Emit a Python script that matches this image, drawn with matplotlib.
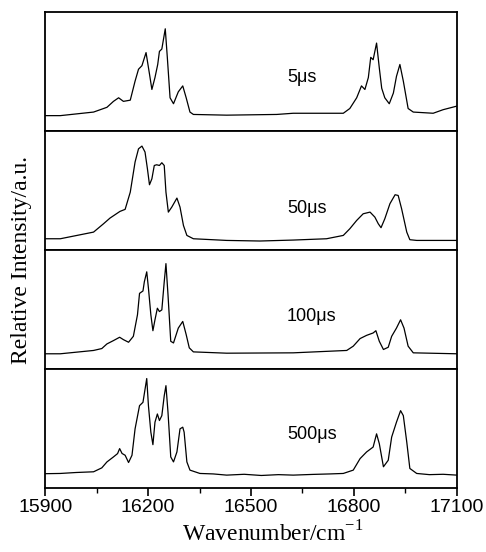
import matplotlib
matplotlib.use("Agg")
import matplotlib.pyplot as plt
from matplotlib.ticker import MultipleLocator

# spectra (wavenumber / cm-1, relative intensity in panel units)
wn_5 = [15900, 15944, 16041, 16080, 16099, 16114, 16128, 16148, 16162, 16172,
        16182, 16194, 16204, 16211, 16220, 16228, 16233, 16240, 16250, 16256,
        16264, 16274, 16288, 16301, 16311, 16322, 16332, 16429, 16575, 16623,
        16769, 16788, 16808, 16822, 16832, 16842, 16849, 16856, 16866, 16874,
        16881, 16890, 16903, 16915, 16924, 16934, 16944, 16958, 16973, 17031,
        17060, 17100]
int_5 = [0.13, 0.13, 0.16, 0.20, 0.25, 0.28, 0.25, 0.26, 0.42, 0.52,
         0.55, 0.66, 0.48, 0.35, 0.45, 0.56, 0.67, 0.69, 0.86, 0.62,
         0.28, 0.23, 0.33, 0.38, 0.28, 0.16, 0.14, 0.134, 0.14, 0.15,
         0.15, 0.19, 0.28, 0.38, 0.35, 0.45, 0.62, 0.60, 0.74, 0.53,
         0.36, 0.28, 0.23, 0.32, 0.46, 0.56, 0.42, 0.19, 0.16, 0.15,
         0.18, 0.21]

wn_50 = [15900, 15944, 16041, 16070, 16089, 16118, 16133, 16148, 16162, 16172,
         16182, 16191, 16198, 16204, 16211, 16218, 16225, 16233, 16240, 16247,
         16252, 16259, 16269, 16284, 16293, 16303, 16313, 16332, 16429, 16526,
         16623, 16720, 16769, 16788, 16808, 16827, 16847, 16861, 16871, 16879,
         16890, 16905, 16920, 16929, 16939, 16954, 16963, 16983, 17100]
int_50 = [0.095, 0.095, 0.151, 0.221, 0.269, 0.325, 0.342, 0.487, 0.74, 0.851,
          0.874, 0.824, 0.683, 0.549, 0.599, 0.711, 0.717, 0.711, 0.734, 0.711,
          0.487, 0.319, 0.361, 0.437, 0.361, 0.207, 0.123, 0.095, 0.081, 0.076,
          0.084, 0.095, 0.123, 0.179, 0.249, 0.305, 0.319, 0.277, 0.221, 0.188,
          0.263, 0.39, 0.465, 0.459, 0.347, 0.151, 0.087, 0.081, 0.081]

wn_100 = [15900, 15944, 16041, 16065, 16080, 16099, 16117, 16128, 16143, 16157,
          16169, 16175, 16185, 16189, 16196, 16201, 16208, 16214, 16220, 16227,
          16233, 16240, 16247, 16252, 16258, 16266, 16274, 16288, 16301, 16311,
          16320, 16332, 16429, 16623, 16779, 16798, 16818, 16837, 16856, 16864,
          16874, 16886, 16900, 16910, 16924, 16936, 16946, 16958, 16973, 17100]
int_100 = [0.128, 0.128, 0.156, 0.172, 0.211, 0.239, 0.267, 0.247, 0.225, 0.275,
           0.456, 0.636, 0.656, 0.733, 0.817, 0.678, 0.456, 0.322, 0.414, 0.511,
           0.483, 0.497, 0.733, 0.886, 0.622, 0.233, 0.219, 0.344, 0.4, 0.289,
           0.178, 0.144, 0.133, 0.136, 0.156, 0.192, 0.256, 0.283, 0.303, 0.322,
           0.233, 0.164, 0.183, 0.275, 0.344, 0.414, 0.344, 0.192, 0.136, 0.128]

wn_500 = [15900, 15944, 15990, 16041, 16065, 16080, 16099, 16111, 16117, 16124,
          16133, 16143, 16153, 16162, 16175, 16185, 16196, 16201, 16208, 16214,
          16220, 16227, 16233, 16240, 16247, 16252, 16258, 16266, 16274, 16284,
          16293, 16301, 16305, 16313, 16322, 16351, 16390, 16429, 16480, 16530,
          16580, 16623, 16680, 16730, 16769, 16798, 16818, 16837, 16856, 16866,
          16874, 16886, 16900, 16910, 16924, 16936, 16944, 16954, 16963, 16983,
          17020, 17060, 17100]
int_500 = [0.12, 0.122, 0.13, 0.136, 0.169, 0.219, 0.261, 0.289, 0.331, 0.29,
           0.275, 0.214, 0.275, 0.497, 0.692, 0.72, 0.92, 0.69, 0.469, 0.364,
           0.553, 0.622, 0.567, 0.608, 0.775, 0.86, 0.636, 0.261, 0.219, 0.303,
           0.497, 0.511, 0.469, 0.219, 0.15, 0.122, 0.118, 0.108, 0.115, 0.105,
           0.112, 0.108, 0.114, 0.118, 0.122, 0.15, 0.247, 0.303, 0.344, 0.455,
           0.372, 0.178, 0.233, 0.428, 0.553, 0.65, 0.608, 0.386, 0.164, 0.122,
           0.112, 0.115, 0.108]

delays = ["5μs", "50μs", "100μs", "500μs"]
label_y = [0.45, 0.35, 0.44, 0.45]

series = [(wn_5, int_5), (wn_50, int_50), (wn_100, int_100), (wn_500, int_500)]

fig, axes = plt.subplots(4, 1, sharex=True, figsize=(4.86, 5.52), dpi=100)
fig.subplots_adjust(left=0.093, right=0.940, bottom=0.116, top=0.978, hspace=0)

for ax, (wn, inten), lab, ly in zip(axes, series, delays, label_y):
    ax.plot(wn, inten, color="black", lw=0.9, solid_joinstyle="round")
    ax.set_xlim(15900, 17100)
    ax.set_ylim(0, 1)
    ax.set_yticks([])
    for sp in ax.spines.values():
        sp.set_linewidth(1.3)
    ax.text(16605, ly, lab, fontsize=13, family="Liberation Sans",
            ha="left", va="center")
    ax.tick_params(axis="x", which="both", bottom=False, labelbottom=False)

bottom_ax = axes[-1]
bottom_ax.xaxis.set_major_locator(MultipleLocator(300))
bottom_ax.xaxis.set_minor_locator(MultipleLocator(150))
bottom_ax.tick_params(axis="x", which="both", bottom=True, labelbottom=True,
                      direction="out")
bottom_ax.tick_params(axis="x", which="major", length=6, width=1.2, pad=2,
                      labelsize=14)
bottom_ax.tick_params(axis="x", which="minor", length=3.5, width=1.0)
for t in bottom_ax.get_xticklabels():
    t.set_family("Liberation Sans")

fig.text(0.045, 0.529, "Relative Intensity/a.u.", rotation=90, fontsize=17,
         family="Liberation Serif", ha="center", va="center")
fig.text(0.3745, 0.019, r"Wavenumber/cm$^{\mathregular{-1}}$", fontsize=17,
         family="Liberation Serif", ha="left", va="baseline")

fig.savefig("out.png", dpi=100)
